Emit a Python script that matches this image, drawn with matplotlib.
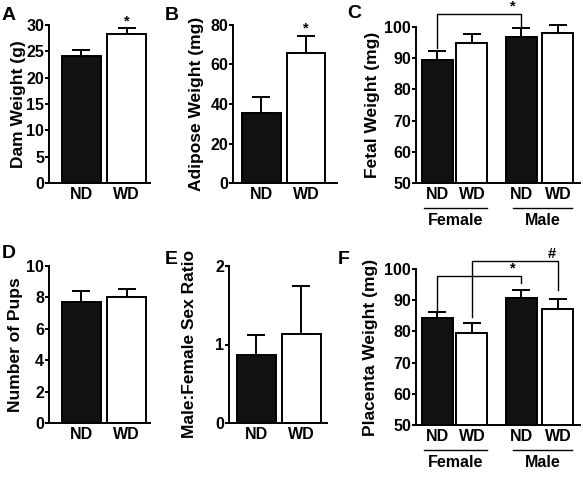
import matplotlib
matplotlib.use("Agg")
import matplotlib.pyplot as plt

plt.rcParams['font.family'] = ['Liberation Sans', 'DejaVu Sans']
plt.rcParams['font.weight'] = 'bold'

####################################
# Dados (media e erro padrao)

grupos2 = ["ND", "WD"]
grupos4 = ["ND", "WD", "ND", "WD"]
sexos = ["Female", "Male"]

dam_media = [24.2, 28.3]
dam_erro = [1.1, 1.1]

adiposo_media = [35.5, 65.7]
adiposo_erro = [8.0, 8.8]

fetal_media = [89.5, 94.9, 96.7, 98.2]
fetal_erro = [2.8, 3.0, 3.0, 2.4]

filhotes_media = [7.7, 8.0]
filhotes_erro = [0.7, 0.55]

razao_media = [0.87, 1.13]
razao_erro = [0.25, 0.62]

placenta_media = [84.3, 79.5, 90.6, 87.2]
placenta_erro = [1.8, 3.2, 2.7, 3.1]

####################################
# Figura

W, H = 583, 480
fig = plt.figure(figsize=(W/100, H/100), dpi=100)

def eixo(l, t, r, b):
    # retangulo em pixels -> coordenadas da figura
    return fig.add_axes([l/W, 1 - b/H, (r - l)/W, (b - t)/H])

cores2 = ["#111111", "white"]
cores4 = ["#111111", "white", "#111111", "white"]

def painel(rect, pos, media, erro, cores, nomes, xlim, ylim, yticks, ylabel, larg, lab_x, letra, letra_xy):
    ax = eixo(*rect)
    ax.bar(pos, media, width=larg, color=cores, edgecolor="black", linewidth=1.4, zorder=2)
    ax.errorbar(pos, media, yerr=[[0]*len(media), erro], fmt="none", ecolor="black",
                elinewidth=1.4, capsize=6.5, capthick=1.4, zorder=1, clip_on=False)
    ax.set_xlim(*xlim)
    ax.set_ylim(*ylim)
    ax.set_yticks(yticks)
    ax.set_xticks(pos)
    ax.set_xticklabels(nomes, fontsize=11.5, fontweight="bold")
    ax.tick_params(axis="x", length=0, pad=3)
    ax.tick_params(axis="y", length=3, width=1.4, labelsize=11.5, pad=0.5)
    for s in ["top", "right"]:
        ax.spines[s].set_visible(False)
    for s in ["left", "bottom"]:
        ax.spines[s].set_linewidth(1.4)
    l, t, r, b = rect
    fig.text(lab_x/W, 1 - (t + b)/2/H, ylabel, rotation=90, ha="center", va="center",
             fontsize=12.5, fontweight="bold")
    fig.text(letra_xy[0]/W, 1 - letra_xy[1]/H, letra, ha="left", va="center",
             fontsize=14, fontweight="bold")
    return ax

def colchete(ax, x1, x2, y1, y2, topo, texto, xt):
    ax.plot([x1, x1, x2, x2], [y1, topo, topo, y2], c="black", lw=1, clip_on=False)
    ax.text(xt, topo, texto, ha="center", va="bottom", fontsize=10.5, fontweight="bold")

def grupos(ax, esq, dir):
    tr = ax.get_xaxis_transform()
    for (a, c), nome in zip([esq, dir], sexos):
        ax.plot([a, c], [-0.16, -0.16], c="black", lw=1, transform=tr, clip_on=False)
        ax.text((a + c)/2, -0.24, nome, transform=tr, ha="center", va="center",
                fontsize=11.5, fontweight="bold")

pos2 = [0, 1]
pos4 = [0, 1, 2.43, 3.49]

# A
ax = painel((49, 25, 150, 183), pos2, dam_media, dam_erro, cores2, grupos2,
            (-0.72, 1.52), (0, 30), range(0, 31, 5), "Dam Weight (g)", 0.87, 19, "A", (2, 15))
ax.text(1, 29.4, "*", ha="center", va="bottom", fontsize=10.5)

# B
ax = painel((233, 25, 337, 183), pos2, adiposo_media, adiposo_erro, cores2, grupos2,
            (-0.64, 1.70), (0, 80), range(0, 81, 20), "Adipose Weight (mg)", 0.87, 197, "B", (165, 15))
ax.text(1, 74.5, "*", ha="center", va="bottom", fontsize=10.5)

# C
ax = painel((416, 27, 580, 183), pos4, fetal_media, fetal_erro, cores4, grupos4,
            (-0.62, 4.13), (50, 100), range(50, 101, 10), "Fetal Weight (mg)", 0.9, 372, "C", (347, 13))
colchete(ax, pos4[0], pos4[2], 93.3, 100.3, 104.2, "*", pos4[2] - 0.25)
grupos(ax, (-0.4, 1.45), (2.2, 3.9))

# D
painel((49, 266, 150, 423), pos2, filhotes_media, filhotes_erro, cores2, grupos2,
       (-0.72, 1.52), (0, 10), range(0, 11, 2), "Number of Pups", 0.87, 16, "D", (2, 253))

# E
painel((229, 266, 327, 423), pos2, razao_media, razao_erro, cores2, grupos2,
       (-0.6, 1.57), (0, 2), [0, 1, 2], "Male:Female Sex Ratio", 0.86, 189, "E", (165, 259))

# F
ax = painel((416, 269, 580, 425), pos4, placenta_media, placenta_erro, cores4, grupos4,
            (-0.62, 4.13), (50, 100), range(50, 101, 10), "Placenta Weight (mg)", 0.9, 370, "F", (338, 260))
colchete(ax, pos4[0], pos4[2], 86.9, 95.5, 97.8, "*", pos4[2] - 0.25)
colchete(ax, pos4[1], pos4[3], 84.6, 93.3, 102.6, "#", pos4[3] - 0.17)
grupos(ax, (-0.4, 1.45), (2.2, 3.9))

fig.savefig("out.png", dpi=100)
